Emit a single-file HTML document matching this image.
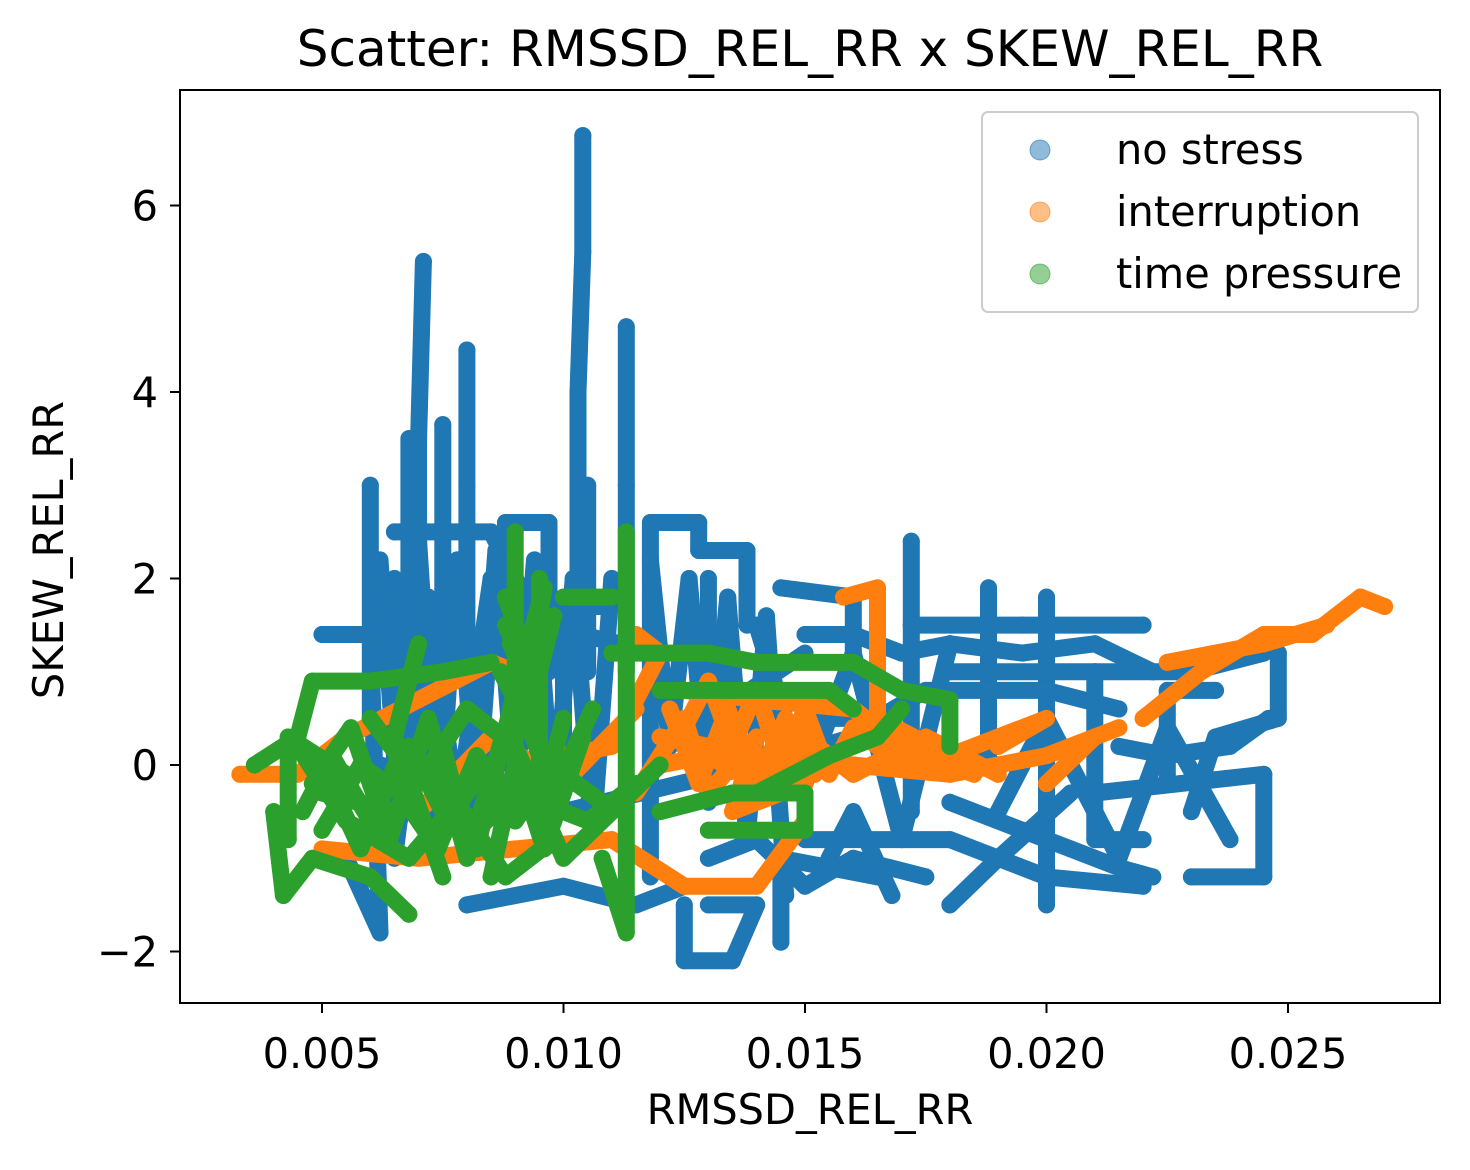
<!DOCTYPE html>
<html><head><meta charset="utf-8"><style>
html,body{margin:0;padding:0;background:#fff}
svg text{font-family:"DejaVu Sans","Liberation Sans",sans-serif;fill:#000}
</style></head><body>
<svg id="chart" width="1470" height="1165">
<rect x="0" y="0" width="1470" height="1165" fill="#fff"/>
<text x="810" y="66" font-size="50" text-anchor="middle">Scatter: RMSSD_REL_RR x SKEW_REL_RR</text>
<g id="marks"></g>
<rect x="180" y="90" width="1260" height="913" fill="none" stroke="#000" stroke-width="2"/>
<g id="axes"></g>
<text x="810" y="1124" font-size="41.5" text-anchor="middle">RMSSD_REL_RR</text>
<text transform="translate(63,550) rotate(-90)" font-size="41.5" text-anchor="middle">SKEW_REL_RR</text>
<g>
<rect x="982" y="112" width="436" height="200" rx="6" fill="#fff" fill-opacity="0.8" stroke="#ccc" stroke-width="2"/>
<circle cx="1040" cy="150" r="10" fill="#1f77b4" fill-opacity="0.5" stroke="#1f77b4" stroke-opacity="0.6"/>
<text x="1116" y="164" font-size="41.5">no stress</text>
<circle cx="1040" cy="212" r="10" fill="#ff7f0e" fill-opacity="0.5" stroke="#ff7f0e" stroke-opacity="0.6"/>
<text x="1116" y="226" font-size="41.5">interruption</text>
<circle cx="1040" cy="274" r="10" fill="#2ca02c" fill-opacity="0.5" stroke="#2ca02c" stroke-opacity="0.6"/>
<text x="1116" y="288" font-size="41.5">time pressure</text>
</g>
</svg>
<script>
const xTicks = [0.005, 0.010, 0.015, 0.020, 0.025];
const xTickLabels = ["0.005", "0.010", "0.015", "0.020", "0.025"];
const yTicks = [-2, 0, 2, 4, 6];
const yTickLabels = ["\u22122", "0", "2", "4", "6"];
const noStress = [
[[0.0103,2.0],[0.0103,4.0],[0.0104,5.5],[0.0104,6.75]],
[[0.0070,1.5],[0.0070,3.5],[0.0071,5.4]],
[[0.0080,1.0],[0.0080,3.0],[0.0080,4.45]],
[[0.0113,1.0],[0.0113,3.0],[0.0113,4.7]],
[[0.0075,1.0],[0.0075,3.65]],
[[0.0068,1.0],[0.0068,3.5]],
[[0.0060,0.5],[0.0060,3.0]],
[[0.0105,1.0],[0.0105,3.0]],
[[0.0097,1.0],[0.0097,2.6],[0.0088,2.6],[0.0088,1.0]],
[[0.0118,-1.2],[0.0118,2.6],[0.0128,2.6],[0.0128,2.3],[0.0138,2.3],[0.0138,1.5]],
[[0.0172,-0.5],[0.0172,2.4]],
[[0.0200,-1.5],[0.0200,1.8]],
[[0.0188,0.0],[0.0188,1.9]],
[[0.0145,1.9],[0.0160,1.8],[0.0160,1.0]],
[[0.0172,1.5],[0.0195,1.5],[0.0220,1.5]],
[[0.0180,1.0],[0.0230,1.0],[0.0245,1.2],[0.0248,1.4]],
[[0.0150,-0.8],[0.0180,-0.8],[0.0200,-1.2],[0.0220,-1.3]],
[[0.0210,-0.3],[0.0245,-0.1],[0.0245,-1.2],[0.0230,-1.2]],
[[0.0248,1.2],[0.0248,0.5],[0.0235,0.3],[0.0230,-0.5]],
[[0.0130,-1.5],[0.0140,-1.5],[0.0135,-2.1],[0.0125,-2.1],[0.0125,-1.5]],
[[0.0145,-1.9],[0.0145,-1.0],[0.0165,-1.2]],
[[0.0050,1.4],[0.0060,1.4],[0.0062,-1.8],[0.0055,-1.0]],
[[0.0080,-1.5],[0.0100,-1.3],[0.0115,-1.5],[0.0125,-1.3]],
[[0.0150,0.5],[0.0165,0.5],[0.0175,0.8],[0.0200,0.8],[0.0215,0.6]],
[[0.0210,1.0],[0.0210,-0.8],[0.0220,-0.8]],
[[0.0155,-1.0],[0.0160,-0.5],[0.0168,-1.4]],
[[0.0225,-0.2],[0.0225,0.8],[0.0235,0.8]],
[[0.0065,2.5],[0.0085,2.5],[0.0095,1.5],[0.0120,1.2]],
[[0.0062,0.0],[0.0100,-0.5],[0.0140,0.0],[0.0160,0.3],[0.0190,0.0]],
[[0.0180,-1.5],[0.0190,-1.0],[0.0205,-0.3]],
[[0.0130,2.0],[0.0130,0.5],[0.0150,1.2]],
[[0.0100,-0.3],[0.0100,1.7],[0.0110,1.7]],
[[0.0065,2.0],[0.0065,-1.0],[0.0072,1.8],[0.0078,-0.5],[0.0085,2.0]],
[[0.0140,1.5],[0.0150,-0.2],[0.0160,1.2],[0.0170,-0.8],[0.0180,1.3]],
[[0.0190,-0.5],[0.0200,0.5],[0.0215,-1.0],[0.0225,0.4],[0.0238,-0.8]],
[[0.0062,2.2],[0.0066,-0.6],[0.0070,2.4],[0.0074,-0.8],[0.0078,2.2],[0.0082,-0.5],[0.0086,2.3],[0.0090,-0.4],[0.0094,2.2],[0.0098,-0.6],[0.0102,2.0],[0.0106,-0.8],[0.0110,2.0]],
[[0.0118,2.2],[0.0122,0.2],[0.0126,2.0],[0.0130,-0.4],[0.0134,1.8],[0.0138,-0.8],[0.0142,1.6],[0.0146,-1.4]],
[[0.0150,1.4],[0.0160,1.4],[0.0170,1.2],[0.0180,1.3],[0.0195,1.2],[0.0210,1.3],[0.0222,1.0]],
[[0.0180,-0.4],[0.0195,-0.7],[0.0205,-0.9],[0.0215,-1.1],[0.0222,-1.2]],
[[0.0130,-1.0],[0.0140,-0.8],[0.0150,-1.3],[0.0160,-1.0],[0.0175,-1.2]],
[[0.0215,0.2],[0.0225,0.1],[0.0238,0.2],[0.0246,0.5]]
];
const interruption = [
[[0.0033,-0.1],[0.0045,-0.1],[0.0055,0.3],[0.0070,0.7],[0.0085,1.1],[0.0095,0.9]],
[[0.0050,-0.9],[0.0070,-1.0],[0.0090,-0.9],[0.0110,-0.8],[0.0125,-1.3],[0.0140,-1.3],[0.0150,-0.6]],
[[0.0120,0.3],[0.0140,0.1],[0.0160,0.0],[0.0180,-0.1],[0.0200,0.1],[0.0215,0.4]],
[[0.0125,0.8],[0.0140,0.7],[0.0160,0.6],[0.0170,0.2],[0.0185,-0.1]],
[[0.0158,1.8],[0.0165,1.9],[0.0165,0.5]],
[[0.0220,0.5],[0.0232,1.0],[0.0245,1.4],[0.0255,1.4],[0.0265,1.8],[0.0270,1.7]],
[[0.0225,1.1],[0.0245,1.3],[0.0258,1.5]],
[[0.0115,-0.3],[0.0125,0.5],[0.0130,-0.3],[0.0140,0.3],[0.0135,-0.5],[0.0150,-0.2]],
[[0.0090,0.0],[0.0110,0.2],[0.0120,1.2],[0.0115,1.4]],
[[0.0070,-0.5],[0.0085,0.3],[0.0100,-0.2],[0.0115,0.6]],
[[0.0165,0.5],[0.0180,0.1],[0.0200,0.5],[0.0190,0.2]],
[[0.0200,-0.2],[0.0210,0.3],[0.0205,0.2]],
[[0.0122,0.6],[0.0128,-0.2],[0.0134,0.6],[0.0140,-0.2],[0.0146,0.5],[0.0152,-0.1]],
[[0.0125,0.4],[0.0130,0.9],[0.0135,0.2],[0.0140,0.8],[0.0145,0.0],[0.0150,0.6],[0.0155,-0.1],[0.0160,0.4],[0.0170,0.0],[0.0180,0.2]],
[[0.0120,0.0],[0.0130,0.1],[0.0140,-0.2],[0.0150,0.3],[0.0160,-0.1],[0.0175,0.3],[0.0190,-0.1]]
];
const timePressure = [
[[0.0036,0.0],[0.0045,0.3],[0.0048,0.9],[0.0060,0.9],[0.0075,1.0],[0.0085,1.1]],
[[0.0040,-0.5],[0.0042,-1.4],[0.0048,-1.0],[0.0060,-1.2],[0.0068,-1.6]],
[[0.0090,2.5],[0.0090,0.0],[0.0085,-1.2]],
[[0.0095,2.0],[0.0095,-0.5],[0.0100,0.5]],
[[0.0113,2.5],[0.0113,-1.8],[0.0108,-1.0]],
[[0.0100,1.8],[0.0110,1.8]],
[[0.0110,1.2],[0.0130,1.2],[0.0140,1.1],[0.0160,1.1],[0.0170,0.8],[0.0180,0.7],[0.0180,0.2]],
[[0.0120,0.8],[0.0135,0.8],[0.0155,0.8],[0.0160,0.6]],
[[0.0140,-0.3],[0.0155,0.1],[0.0165,0.3],[0.0170,0.6]],
[[0.0120,-0.5],[0.0135,-0.3],[0.0150,-0.3],[0.0150,-0.7],[0.0130,-0.7]],
[[0.0050,-0.3],[0.0065,-0.5],[0.0075,0.2],[0.0080,-0.8],[0.0090,-0.3],[0.0105,-0.6],[0.0115,-0.2]],
[[0.0060,0.5],[0.0070,-0.2],[0.0080,0.6],[0.0090,0.2],[0.0100,-1.0],[0.0120,0.0]],
[[0.0045,0.2],[0.0055,-0.6],[0.0068,-1.0],[0.0078,-0.4],[0.0088,-1.2],[0.0098,-0.8]],
[[0.0070,1.3],[0.0065,0.3],[0.0075,-1.2]],
[[0.0043,-0.8],[0.0043,0.3],[0.0055,-0.1]],
[[0.0048,-0.2],[0.0056,0.4],[0.0064,-0.8],[0.0072,0.5],[0.0080,-1.0],[0.0088,0.4],[0.0096,-0.9],[0.0104,0.3]],
[[0.0050,-0.7],[0.0058,0.0],[0.0066,-0.3],[0.0074,-0.9],[0.0082,0.1],[0.0090,-0.6],[0.0098,0.0]],
[[0.0088,1.5],[0.0094,0.8],[0.0098,1.6],[0.0092,0.5],[0.0087,1.0]],
[[0.0046,-0.5],[0.0052,0.1],[0.0060,-0.6],[0.0068,0.2],[0.0076,-0.6],[0.0084,0.0],[0.0092,-0.5],[0.0100,-0.1],[0.0108,-0.4]],
[[0.0050,0.0],[0.0058,-0.9],[0.0066,0.1],[0.0074,-0.2],[0.0082,-0.9],[0.0090,0.8],[0.0098,-0.3],[0.0106,0.6]],
[[0.0088,1.8],[0.0092,1.2],[0.0096,1.9],[0.0093,1.0],[0.0089,1.3],[0.0094,0.7]]
];
const x0 = 322, xk = 241.5 / 0.005, y0 = 765, yk = 186.5 / 2;
function sx(v){ return x0 + (v - 0.005) * xk; }
function sy(v){ return y0 - v * yk; }
const NS = "http://www.w3.org/2000/svg";
const axes = document.getElementById('axes');
xTicks.forEach((t, i) => {
  const l = document.createElementNS(NS, 'line');
  l.setAttribute('x1', sx(t)); l.setAttribute('x2', sx(t));
  l.setAttribute('y1', 1003); l.setAttribute('y2', 1013);
  l.setAttribute('stroke', '#000'); l.setAttribute('stroke-width', 2);
  
  
  axes.appendChild(l);
  const tx = document.createElementNS(NS, 'text');
  tx.setAttribute('x', sx(t)); tx.setAttribute('y', 1068);
  tx.setAttribute('font-size', 41.5); tx.setAttribute('text-anchor', 'middle');
  tx.textContent = xTickLabels[i];
  
  
  axes.appendChild(tx);
});
yTicks.forEach((t, i) => {
  const l = document.createElementNS(NS, 'line');
  l.setAttribute('x1', 170); l.setAttribute('x2', 180);
  l.setAttribute('y1', sy(t)); l.setAttribute('y2', sy(t));
  l.setAttribute('stroke', '#000'); l.setAttribute('stroke-width', 2);
  
  
  axes.appendChild(l);
  const tx = document.createElementNS(NS, 'text');
  tx.setAttribute('x', 158); tx.setAttribute('y', sy(t) + 15);
  tx.setAttribute('font-size', 41.5); tx.setAttribute('text-anchor', 'end');
  tx.textContent = yTickLabels[i];
  
  
  axes.appendChild(tx);
});
const marks = document.getElementById('marks');
function drawSeries(traces, color, name){
  const g = document.createElementNS(NS, 'g');
  
  
  traces.forEach(tr => {
    const p = document.createElementNS(NS, 'path');
    p.setAttribute('d', tr.map((pt, j) => (j ? 'L' : 'M') + sx(pt[0]).toFixed(1) + ' ' + sy(pt[1]).toFixed(1)).join(' '));
    p.setAttribute('fill', 'none'); p.setAttribute('stroke', color);
    p.setAttribute('stroke-width', 17); p.setAttribute('stroke-linecap', 'round'); p.setAttribute('stroke-linejoin', 'round');
    
    
    g.appendChild(p);
    tr.forEach(pt => {
      const c = document.createElementNS(NS, 'circle');
      c.setAttribute('cx', sx(pt[0])); c.setAttribute('cy', sy(pt[1])); c.setAttribute('r', 8.5);
      c.setAttribute('fill', color);
      
      
      g.appendChild(c);
    });
  });
  marks.appendChild(g);
}
drawSeries(noStress, '#1f77b4', 'no-stress-series');
drawSeries(interruption, '#ff7f0e', 'interruption-series');
drawSeries(timePressure, '#2ca02c', 'time-pressure-series');
</script>
</body></html>
